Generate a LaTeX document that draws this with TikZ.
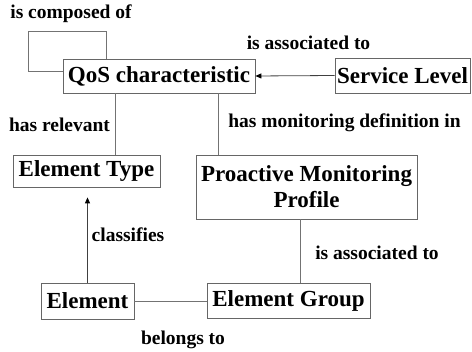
\documentclass[tikz,border=0pt]{standalone}
\usepackage{fontspec}
\setmainfont{Liberation Serif}
\usetikzlibrary{arrows.meta}
\tikzset{
  box/.style={draw=black!60, line width=0.8pt, inner sep=0pt, align=center,
    font=\fontsize{23}{26}\selectfont\bfseries},
  lbl/.style={inner sep=0pt, font=\fontsize{19.5}{22}\selectfont\bfseries},
  conn/.style={draw=black!55, line width=0.8pt},
  arr/.style={draw=black!75, line width=0.8pt, -{Triangle[length=6pt,width=5pt,black]}}
}
\begin{document}
\begin{tikzpicture}[x=1pt,y=1pt]
\useasboundingbox (0,0) rectangle (472,-352);
\node[box, minimum width=192, minimum height=34] (qos) at (159,-76) {QoS characteristic};
\node[box, minimum width=135, minimum height=35] (sl) at (402.5,-75.5) {Service Level};
\node[box, minimum width=147, minimum height=32] (et) at (86.5,-171) {Element Type};
\node[box, minimum width=221, minimum height=64] (pmp) at (306.5,-187) {Proactive Monitoring\\Profile};
\node[box, minimum width=93, minimum height=36] (el) at (87.5,-301) {Element};
\node[box, minimum width=163, minimum height=35] (eg) at (288.5,-301) {Element Group};

\coordinate (x1) at (115,0);
\coordinate (x2) at (218,0);
\coordinate (x3) at (300,0);
\coordinate (lpA) at (106,-31);
\coordinate (lpB) at (28,-71);
\coordinate (tgt) at ([yshift=-10pt]et.south);

\draw[conn] (qos.north -| lpA) |- (lpB |- lpA) -- (lpB) -- (lpB -| qos.west);
\draw[arr] (sl.west) -- (qos.east);
\draw[conn] (qos.south -| x1) -- (et.north -| x1);
\draw[conn] (qos.south -| x2) -- (pmp.north -| x2);
\draw[conn] (pmp.south -| x3) -- (eg.north -| x3);
\draw[conn] (el.east) -- (eg.west);
\draw[arr] (el.north) -- (el.north |- tgt);

\node[lbl] (l1) at (71,-14) {is composed of};
\node[lbl] (l2) at (308.5,-43) {is associated to};
\node[lbl] (l3) at (59.5,-125) {has relevant};
\node[lbl] (l4) at (344.5,-123) {has monitoring definition in};
\node[lbl] (l5) at (128,-235) {classifies};
\node[lbl] (l6) at (377,-253) {is associated to};
\node[lbl] (l7) at (183,-340) {belongs to};
\end{tikzpicture}
\end{document}
